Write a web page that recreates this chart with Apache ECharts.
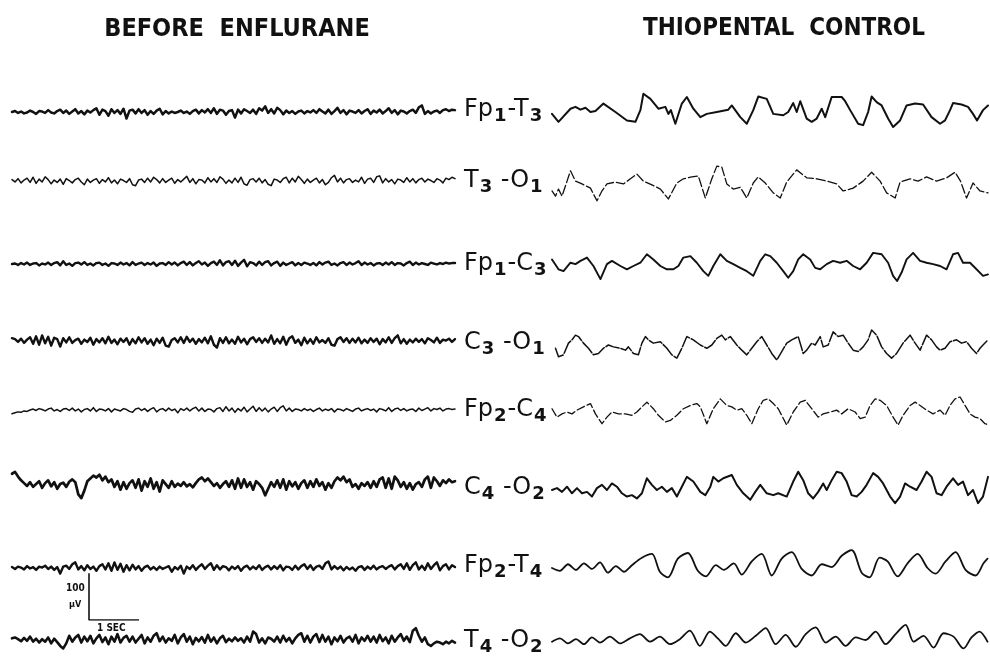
<!DOCTYPE html>
<html><head><meta charset="utf-8">
<script src="https://cdn.jsdelivr.net/npm/echarts/dist/echarts.min.js"></script>
<style>html,body{margin:0;padding:0;background:#fff}#c{width:990px;height:667px}</style>
</head><body><div id="c"></div>
<script>
// ---- Text ----
const panelTitles = ['BEFORE  ENFLURANE', 'THIOPENTAL  CONTROL'];
const channelLabels = [
  ['Fp','1','-T','3'], ['T','3',' -O','1'], ['Fp','1','-C','3'], ['C','3',' -O','1'],
  ['Fp','2','-C','4'], ['C','4',' -O','2'], ['Fp','2','-T','4'], ['T','4',' -O','2']
];
const scaleAmplitudeText = ['100', 'μV'];
const scaleTimeText = '1 SEC';
const scaleAmplitude = 100; // μV
const scaleTime = 1;        // s

// ---- Before enflurane (μV, evenly spaced samples) ----
const beforeFp1T3 = [0,2,-2,1,-3,-1,3,0,-4,2,1,-2,4,-1,-3,2,5,-2,3,-4,
1,6,-3,2,-5,3,-1,4,8,-6,5,2,-8,6,-2,4,-4,7,-14,3,
5,-3,6,-2,4,-6,2,-4,3,7,-5,2,-3,1,-2,0,3,-2,1,-4,
2,5,-3,4,-1,6,-2,8,-4,5,3,-6,2,4,-12,5,-3,6,2,-2,
5,-4,8,3,12,-2,6,-3,9,4,-5,3,-2,2,-4,1,3,-3,2,-1,
4,-2,6,1,-3,5,-4,2,9,-2,4,-5,3,1,-2,4,-3,2,6,-4,
3,-1,5,-3,2,8,-2,4,-5,3,1,-3,2,5,-2,10,14,-4,2,-3,
1,3,-2,4,6,2,5,4];
const beforeT3O1 = [3,-2,5,-4,2,6,-3,8,-5,4,-2,9,3,-6,2,-3,4,-7,5,1,
-4,3,6,-2,-8,4,-3,2,5,-5,3,-2,7,-4,2,-6,4,1,-3,5,
-8,-10,2,4,-3,6,-2,8,3,-4,5,-3,2,6,-5,3,-2,4,10,-3,
5,-6,3,2,-4,7,-2,5,-3,9,4,-5,2,-4,6,-3,8,-6,-9,3,
5,-2,6,-4,3,-7,-10,4,2,-3,5,8,-4,6,-2,10,3,-5,4,-3,
2,6,-4,3,-8,-3,7,12,-2,6,-4,3,5,-3,2,-2,8,-5,4,6,
-3,9,11,-4,5,-2,3,-6,4,2,-3,7,-2,5,-4,3,6,-2,4,1,
-3,5,2,-4,6,3,8,5];
const beforeFp1C3 = [0,1,-2,2,-1,3,-2,1,2,-3,1,-1,3,-2,2,4,-3,6,-2,1,
-4,2,3,-1,4,-2,1,-3,2,3,-2,1,-4,2,1,-2,3,-1,2,-3,
4,-2,1,3,-2,2,-1,3,-4,1,2,-2,4,-1,3,-3,2,5,-2,4,
-3,2,6,-1,3,-4,2,5,-2,8,-3,4,6,-2,7,-4,3,9,-5,4,
2,-3,5,-2,4,6,-3,2,5,-4,3,-2,1,4,-3,2,-2,3,1,-2,
2,-3,4,-1,3,5,-2,1,-3,2,4,-2,3,-1,2,6,-2,3,-1,2,
-3,1,2,-2,3,-1,4,-2,2,1,-3,2,5,-2,3,-1,2,0,-2,3,
1,-1,2,0,3,1,2,2];
const beforeC3O1 = [6,4,-2,5,-4,3,8,-6,10,-8,12,-5,9,-10,7,4,-12,6,-3,8,
-4,2,5,-6,3,-2,7,-8,4,-3,6,-5,9,-4,3,-7,5,-2,6,-8,
4,-5,8,-3,6,-6,3,-9,5,-4,7,-10,-12,2,6,-3,8,-4,9,-2,
5,-6,4,-3,7,-5,10,-8,-14,6,-4,8,-5,3,-6,9,-3,5,-7,4,
8,-2,6,-4,5,-3,12,-6,4,-5,9,-8,6,10,-4,3,-9,7,-5,4,
-6,8,-3,2,-4,6,-8,-10,4,8,-2,6,-4,5,-3,7,-5,3,-4,6,
-2,5,-7,4,-3,8,-4,6,12,-5,4,-6,3,-3,5,-2,4,-5,6,2,
-3,7,-4,3,1,5,-2,4];
const beforeFp2C4 = [-8,-6,-4,-5,-2,-3,0,2,-1,3,1,-2,2,4,-2,1,-3,2,3,-1,
4,-2,2,-4,1,3,-2,5,-3,2,1,-2,3,-4,2,0,-2,3,1,-3,
-5,2,4,-1,3,-3,2,5,-4,1,3,-2,4,-1,2,-6,3,-1,4,-2,
3,6,-2,4,-3,2,1,-4,3,5,-3,7,-2,4,-5,3,-2,6,-4,2,
8,-3,5,-2,4,-4,2,6,-3,5,9,-2,4,-3,2,1,-2,3,-1,2,
-3,1,4,-2,2,-1,3,-4,2,1,-2,3,0,-3,2,4,-2,1,3,-1,
2,-4,3,1,-2,5,-3,2,4,-1,3,-2,1,2,-3,4,-1,2,5,-2,
3,1,4,-2,2,3,1,2];
const beforeC4O2 = [24,28,18,10,4,-2,6,-4,2,8,-6,4,10,-3,6,-8,2,5,-4,7,
12,6,-20,-28,-12,8,14,20,16,22,10,18,6,12,-4,8,-10,6,-8,4,
10,-6,12,-12,8,-4,14,-8,6,-14,10,2,-6,8,-4,3,-2,6,-3,2,
-5,4,12,16,8,14,6,-2,4,-6,2,8,-4,10,-8,14,-6,12,-4,6,
-10,8,2,-6,-22,-8,6,-4,10,-6,12,-10,8,-3,6,-8,4,10,-6,8,
-4,12,-2,6,-10,4,-6,8,16,10,18,6,12,-4,2,-8,4,-2,6,-6,
8,-4,12,16,-6,14,-8,18,10,-4,6,-8,4,-10,2,6,-4,12,18,-6,
16,8,-2,10,4,12,6,8];
const beforeFp2T4 = [2,-2,3,1,-3,4,-1,2,-4,3,1,5,-2,3,-4,2,-12,3,5,-2,
8,12,-3,4,-5,6,-2,3,-6,4,8,-3,10,-6,12,-4,9,-8,6,-5,
7,-3,4,-6,2,5,-3,2,-4,3,-2,1,4,-8,2,-3,5,-12,3,-2,
6,-4,3,8,-2,5,10,-4,6,-3,4,2,-5,3,-2,4,-6,2,5,-3,
3,-2,6,-4,2,5,-3,4,-2,6,-5,3,2,-4,5,-3,4,8,-2,6,
-4,3,5,-2,10,14,-3,4,-2,3,-5,2,-3,1,-6,2,4,-4,3,-2,
5,-3,2,4,-2,3,6,-3,4,8,-2,10,-4,6,12,-3,5,-4,10,-2,
6,12,-5,4,8,-3,6,2];
const beforeT4O2 = [4,6,2,-3,5,-2,8,-4,3,-6,2,-4,6,-8,3,-5,-14,-20,-8,10,
-4,6,12,-6,8,-3,10,-8,4,12,-5,6,-10,8,-4,14,-6,5,10,-4,
8,-6,3,12,-8,6,-4,10,16,-3,8,-6,4,-2,12,-8,6,14,-4,8,
-10,5,-3,7,-6,12,-4,6,-8,4,10,-5,3,-3,6,-2,4,-6,8,-4,
20,14,-6,4,-8,6,3,-4,8,-6,10,-3,5,-8,4,12,16,-4,10,-6,
8,14,-5,12,-4,8,-10,6,-3,10,-6,4,8,-4,12,-8,6,-2,10,-4,
8,-6,12,-3,6,-8,10,-4,6,14,-2,8,-5,22,28,10,-4,6,-10,-14,
-8,-4,-6,-10,-4,-8,-2,-6];

// ---- Thiopental control (time s, value μV) ----
const thioFp1T3_t = [0,.13,.37,.47,.57,.67,.77,.87,1.03,1.27,1.50,1.67,1.77,1.83,1.97,2.13,2.27,2.33,2.38,2.47,2.60,2.70,2.83,2.97,3.10,3.30,3.53,3.60,3.77,3.90,4.03,4.13,4.30,4.43,4.63,4.73,4.83,4.90,4.97,5.10,5.20,5.30,5.40,5.47,5.60,5.80,5.87,5.97,6.13,6.23,6.33,6.40,6.50,6.60,6.73,6.83,6.97,7.10,7.27,7.43,7.60,7.77,7.87,7.97,8.03,8.20,8.33,8.43,8.51,8.63,8.73];
const thioFp1T3_v = [-4,-21,7,11,5,9,0,2,18,0,-18,-21,4,39,28,7,11,-4,4,-25,18,32,7,-11,-4,0,5,14,-11,-25,4,33,28,-4,-7,0,19,0,23,-14,-21,-14,7,-11,32,32,23,4,-25,-28,0,33,21,14,-14,-32,-18,14,18,16,-11,-25,-18,4,19,16,11,-4,-18,4,14];
const thioT3O1_t = [0,.07,.13,.20,.27,.37,.47,.60,.77,.90,1.00,1.10,1.27,1.43,1.57,1.70,1.83,2.00,2.17,2.33,2.50,2.63,2.80,2.93,3.07,3.20,3.30,3.40,3.50,3.63,3.77,3.90,4.03,4.13,4.27,4.43,4.57,4.70,4.90,5.10,5.30,5.50,5.70,5.83,6.03,6.23,6.40,6.57,6.70,6.87,6.97,7.17,7.33,7.50,7.70,7.90,8.07,8.18,8.30,8.43,8.57,8.73];
const thioT3O1_v = [-17,-28,-13,-28,-6,26,4,-2,-11,-38,-17,-2,2,-2,9,19,4,-4,-13,-34,0,9,13,15,-32,9,36,34,-2,-13,-9,-32,0,13,0,-21,-32,2,28,11,9,4,-2,-17,-11,4,23,4,-21,-32,2,9,4,13,4,11,23,4,-32,0,-17,-21];
const thioFp1C3_t = [0,.13,.23,.37,.47,.57,.70,.83,.97,1.10,1.20,1.37,1.50,1.63,1.77,1.90,2.03,2.17,2.30,2.43,2.53,2.63,2.77,2.90,3.03,3.13,3.23,3.37,3.50,3.63,3.77,3.90,4.03,4.17,4.27,4.37,4.50,4.63,4.73,4.83,4.93,5.03,5.17,5.27,5.37,5.50,5.63,5.77,5.90,6.03,6.17,6.30,6.43,6.60,6.73,6.83,6.91,7.00,7.10,7.23,7.37,7.50,7.63,7.77,7.90,8.03,8.13,8.23,8.37,8.50,8.63,8.73];
const thioFp1C3_v = [14,-7,-11,7,4,11,18,0,-28,4,11,0,-7,0,7,25,14,0,-7,-7,0,18,21,7,-11,-21,0,25,11,4,-4,-11,-21,11,25,21,7,-11,-25,-11,14,25,14,-4,-7,4,11,7,11,0,-7,7,28,25,7,-21,-32,-14,14,28,11,7,4,0,-7,25,28,7,7,-7,-21,-18];
const thioC3O1_t = [.07,.13,.23,.33,.40,.47,.53,.63,.73,.83,.93,1.03,1.13,1.23,1.37,1.47,1.53,1.63,1.73,1.80,1.87,1.93,2.03,2.17,2.30,2.40,2.50,2.60,2.70,2.83,2.97,3.10,3.20,3.30,3.40,3.47,3.57,3.70,3.80,3.90,4.00,4.10,4.20,4.30,4.40,4.50,4.60,4.70,4.80,4.93,5.03,5.10,5.20,5.27,5.37,5.43,5.53,5.63,5.73,5.83,5.93,6.03,6.13,6.23,6.33,6.40,6.50,6.60,6.70,6.80,6.90,7.03,7.17,7.27,7.37,7.50,7.60,7.70,7.77,7.87,7.97,8.10,8.20,8.30,8.40,8.50,8.57,8.63,8.73];
const thioC3O1_v = [-7,-25,-21,4,11,21,18,4,-7,-21,-18,-7,0,-4,-7,-11,-4,-18,-21,4,18,11,4,7,-7,-21,-28,-7,18,11,0,-7,0,14,21,11,18,0,-11,-21,-7,7,18,0,-18,-32,-14,4,11,18,-18,-11,4,0,18,-4,0,28,18,21,4,-11,-14,-4,11,32,21,-4,-18,-28,-18,4,21,4,-11,21,11,-4,-11,-7,7,11,4,7,-7,-18,-7,0,11];
const thioFp2C4_t = [0,.10,.20,.30,.40,.50,.63,.77,.87,1.00,1.10,1.20,1.33,1.47,1.60,1.70,1.80,1.90,2.03,2.13,2.27,2.37,2.50,2.63,2.77,2.90,2.97,3.10,3.23,3.37,3.50,3.60,3.70,3.80,3.90,4.00,4.13,4.23,4.33,4.43,4.53,4.70,4.83,4.97,5.07,5.20,5.33,5.43,5.57,5.70,5.80,5.93,6.07,6.17,6.27,6.37,6.47,6.57,6.70,6.83,6.93,7.03,7.17,7.27,7.37,7.50,7.63,7.77,7.87,7.97,8.07,8.17,8.27,8.37,8.47,8.57,8.67,8.73];
const thioFp2C4_v = [7,-11,-4,0,-4,4,11,18,-4,-25,-11,0,-4,-4,-7,0,11,21,7,-7,-21,-18,-7,7,14,18,11,-25,7,28,14,11,4,7,-7,-25,7,25,28,18,7,-28,0,21,25,7,-11,-4,0,4,-4,7,0,-14,-11,14,28,25,14,-11,-28,-7,14,21,14,4,-4,4,-7,14,28,32,14,-4,-11,-14,-25,-27];
const thioC4O2_t = [0,.10,.20,.30,.40,.50,.60,.70,.80,.90,1.00,1.10,1.20,1.30,1.40,1.50,1.60,1.70,1.80,1.90,2.00,2.10,2.20,2.30,2.40,2.50,2.60,2.70,2.83,2.97,3.07,3.17,3.23,3.33,3.43,3.60,3.70,3.83,3.97,4.07,4.17,4.30,4.43,4.53,4.70,4.83,4.93,5.03,5.13,5.23,5.33,5.43,5.50,5.60,5.70,5.80,5.90,6.00,6.10,6.20,6.30,6.43,6.53,6.63,6.77,6.87,6.97,7.07,7.17,7.30,7.40,7.50,7.60,7.70,7.80,7.90,8.03,8.13,8.23,8.33,8.43,8.53,8.63,8.73];
const thioC4O2_v = [0,4,-4,7,-7,4,-7,-4,-14,4,11,0,14,7,-7,-14,-11,-18,-7,25,11,0,7,-4,4,-14,7,28,18,-4,-11,7,28,18,25,32,11,-7,-21,-4,11,-7,-11,-7,-14,18,39,21,-7,-18,-4,14,0,21,39,36,18,-11,-14,-4,11,36,28,14,-14,-28,-14,14,7,0,18,39,28,-7,-11,7,25,11,18,-11,0,-28,-14,28];
const thioFp2T4_t = [0,.16,.32,.48,.64,.80,.96,1.12,1.28,1.44,1.60,1.80,2.00,2.16,2.32,2.52,2.72,2.92,3.08,3.28,3.44,3.64,3.80,4.00,4.20,4.40,4.60,4.80,5.00,5.20,5.40,5.60,5.80,6.00,6.20,6.36,6.56,6.72,6.92,7.12,7.32,7.52,7.68,7.88,8.08,8.28,8.48,8.64,8.72];
const thioFp2T4_v = [0,-6,8,-4,10,-2,12,-10,4,-8,6,22,30,-8,-20,20,32,-6,-18,6,-4,10,-14,14,30,-16,20,34,-2,-16,8,2,26,38,-10,-20,22,14,-18,10,30,0,-12,14,34,-4,-16,10,20];
const thioT4O2_t = [0,.16,.32,.48,.64,.80,.96,1.16,1.36,1.56,1.76,1.96,2.16,2.36,2.56,2.76,2.96,3.16,3.32,3.48,3.68,3.88,4.08,4.28,4.48,4.68,4.88,5.08,5.28,5.48,5.68,5.88,6.08,6.28,6.48,6.68,6.88,7.08,7.24,7.44,7.64,7.84,8.04,8.24,8.40,8.56,8.72];
const thioT4O2_v = [-4,4,-8,2,-10,6,-6,8,-8,4,14,-4,8,-10,2,22,-14,20,4,-14,16,-6,10,28,-10,12,-16,14,30,-6,8,-14,6,0,20,-10,14,36,-4,10,-18,16,8,-20,6,20,-4];

// ---- Assembly ----
const beforeSets = [beforeFp1T3, beforeT3O1, beforeFp1C3, beforeC3O1, beforeFp2C4, beforeC4O2, beforeFp2T4, beforeT4O2];
const thioSets = [
  [thioFp1T3_t, thioFp1T3_v], [thioT3O1_t, thioT3O1_v], [thioFp1C3_t, thioFp1C3_v], [thioC3O1_t, thioC3O1_v],
  [thioFp2C4_t, thioFp2C4_v], [thioC4O2_t, thioC4O2_v], [thioFp2T4_t, thioFp2T4_v], [thioT4O2_t, thioT4O2_v]
];

const LEFT_SPAN = 8.86, RIGHT_SPAN = 8.73;
const leftCenters = [112, 181, 264, 341, 410, 485, 568, 643];
const rightCenters = [112, 183, 266, 345, 412, 490, 568, 643];
const leftWidths = [2.5, 1.5, 2.4, 2.4, 1.5, 2.7, 2.4, 2.6];
const rightWidths = [2.0, 1.3, 1.9, 1.5, 1.3, 2.0, 1.8, 1.8];
const rightDash = [null, [9, 3], null, [14, 2], [8, 3], null, null, null];
const rightSmooth = [0, 0, 0, 0, 0, 0, 0.3, 0.3];
const GH = 60, VMAX = 64;

const grid = [], xAxis = [], yAxis = [], series = [];
function addPanel(left, width, top, span, data, lw, dash, smooth) {
  const g = grid.length;
  grid.push({ left: left, top: top, width: width, height: GH, containLabel: false });
  xAxis.push({ type: 'value', gridIndex: g, min: 0, max: span, show: false });
  yAxis.push({ type: 'value', gridIndex: g, min: -VMAX, max: VMAX, show: false });
  series.push({
    type: 'line', xAxisIndex: g, yAxisIndex: g, data: data, showSymbol: false, symbol: 'none',
    smooth: smooth, animation: false, silent: true,
    lineStyle: { color: '#111', width: lw, type: dash || 'solid', join: 'round', cap: 'round' }
  });
}
beforeSets.forEach((arr, i) => {
  const dt = LEFT_SPAN / (arr.length - 1);
  addPanel(12, 443, leftCenters[i] - GH / 2, LEFT_SPAN, arr.map((v, k) => [k * dt, v]), leftWidths[i], null, false);
});
thioSets.forEach((pair, i) => {
  const [ts, vs] = pair;
  const n = Math.min(ts.length, vs.length);
  const d = [];
  for (let k = 0; k < n; k++) d.push([ts[k], vs[k]]);
  addPanel(552, 436, rightCenters[i] - GH / 2, RIGHT_SPAN, d, rightWidths[i], rightDash[i], rightSmooth[i]);
});

// scale bar: 100 μV / 1 s at the same scaling as the traces
{
  const g = grid.length;
  const h = GH * scaleAmplitude / (2 * VMAX);
  const w = 443 * scaleTime / LEFT_SPAN;
  grid.push({ left: 89, top: 620 - h, width: w, height: h });
  xAxis.push({ type: 'value', gridIndex: g, min: 0, max: scaleTime, show: false });
  yAxis.push({ type: 'value', gridIndex: g, min: 0, max: scaleAmplitude, show: false });
  series.push({ type: 'line', xAxisIndex: g, yAxisIndex: g, showSymbol: false, animation: false,
    data: [[0, scaleAmplitude], [0, 0], [scaleTime, 0]], lineStyle: { color: '#111', width: 1.6 } });
}

const graphic = [];
channelLabels.forEach((p, i) => {
  graphic.push({
    type: 'text', left: 464, top: rightCenters[i] - 17,
    style: {
      text: '{m|' + p[0] + '}{s|' + p[1] + '}{m|' + p[2] + '}{s|' + p[3] + '}',
      rich: {
        m: { fontFamily: 'DejaVu Sans', fontSize: 24, fill: '#111', lineHeight: 32 },
        s: { fontFamily: 'DejaVu Sans', fontSize: 18, fill: '#111', fontWeight: 'bold', padding: [12, 1, 0, 1], lineHeight: 32 }
      }
    }
  });
});
graphic.push({ type: 'text', left: 66, top: 583, style: { text: scaleAmplitudeText[0], font: 'bold 10px "DejaVu Sans Condensed"', fill: '#111' } });
graphic.push({ type: 'text', left: 69, top: 600, style: { text: scaleAmplitudeText[1], font: 'bold 9px "DejaVu Sans Condensed"', fill: '#111' } });
graphic.push({ type: 'text', left: 97, top: 623, style: { text: scaleTimeText, font: 'bold 10px "DejaVu Sans Condensed"', fill: '#111' } });

const chart = echarts.init(document.getElementById('c'), null, { renderer: 'canvas' });
chart.setOption({
  backgroundColor: '#fff',
  animation: false,
  title: [
    { text: panelTitles[0], left: 232, top: 12, textAlign: 'center',
      textStyle: { fontFamily: 'DejaVu Sans Condensed', fontWeight: 'bold', fontSize: 25, color: '#111' } },
    { text: panelTitles[1], left: 779, top: 12, textAlign: 'center',
      textStyle: { fontFamily: 'DejaVu Sans Condensed', fontWeight: 'bold', fontSize: 24, color: '#111' } }
  ],
  grid, xAxis, yAxis, series, graphic
});
</script></body></html>
